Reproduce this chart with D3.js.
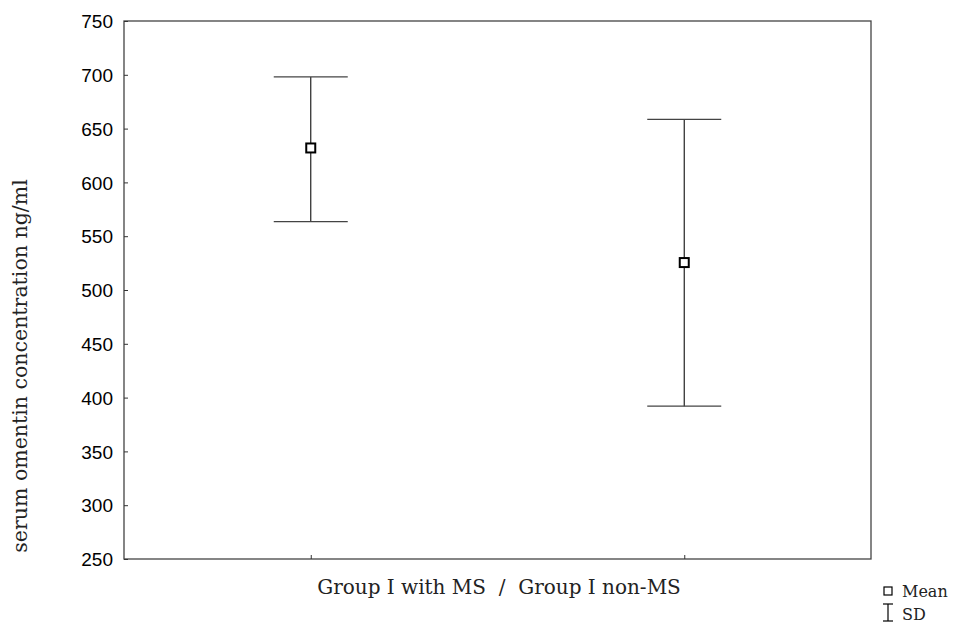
<!DOCTYPE html>
<meta charset="utf-8">
<html>
<head>
<style>
body { margin: 0; background: #fff; }
.tick text { font: 19px "Liberation Sans", Arial, sans-serif; fill: #000; }
.lbl { font: 20px "DejaVu Serif", serif; fill: #222; }
.ylbl { font: 20.5px "DejaVu Serif", serif; fill: #222; }
.leg { font: 16px "DejaVu Serif", serif; fill: #222; }
</style>
<script src="https://d3js.org/d3.v7.min.js"></script>
</head>
<body>
<svg width="954" height="626"></svg>
<script>
var groups = ["Group I with MS", "Group I non-MS"];
var means = [632, 525.5];
var upper = [698, 658.5];
var lower = [563.5, 392];
var yTicks = [250, 300, 350, 400, 450, 500, 550, 600, 650, 700, 750];

var svg = d3.select("svg");
var m = {left: 124, right: 871, top: 21, bottom: 559};

var x = d3.scalePoint().domain(groups).range([m.left, m.right]).padding(0.5);
var y = d3.scaleLinear().domain([250, 750]).range([m.bottom, m.top]);

// frame
svg.append("rect")
    .attr("x", m.left).attr("y", m.top)
    .attr("width", m.right - m.left).attr("height", m.bottom - m.top)
    .attr("fill", "none").attr("stroke", "#444").attr("stroke-width", 1.3);

// y axis, ticks pointing inward
var ya = svg.append("g")
    .attr("transform", "translate(" + m.left + ",0)")
    .call(d3.axisRight(y).tickValues(yTicks).tickSize(4).tickFormat(d3.format("d")));
ya.select(".domain").remove();
ya.selectAll(".tick line").attr("stroke", "#333");
ya.selectAll(".tick text").attr("x", -11).attr("text-anchor", "end").attr("dy", "0.35em");

// x ticks pointing up
var xa = svg.append("g")
    .attr("transform", "translate(0," + m.bottom + ")")
    .call(d3.axisTop(x).tickSize(4).tickFormat(""));
xa.select(".domain").remove();
xa.selectAll(".tick line").attr("stroke", "#333");

// error bars
var cap = 37;
groups.forEach(function(g, i) {
  var cx = x(g);
  svg.append("line").attr("x1", cx).attr("x2", cx)
      .attr("y1", y(upper[i])).attr("y2", y(lower[i]))
      .attr("stroke", "#222").attr("stroke-width", 1.2);
  [upper[i], lower[i]].forEach(function(v) {
    svg.append("line").attr("x1", cx - cap).attr("x2", cx + cap)
        .attr("y1", y(v)).attr("y2", y(v))
        .attr("stroke", "#444").attr("stroke-width", 1.3);
  });
  svg.append("rect")
      .attr("x", cx - 4.5).attr("y", y(means[i]) - 4.5)
      .attr("width", 9).attr("height", 9)
      .attr("fill", "#fff").attr("stroke", "#000").attr("stroke-width", 2);
});

// axis labels
svg.append("text").attr("class", "lbl")
    .attr("x", 499).attr("y", 594)
    .attr("text-anchor", "middle")
    .attr("xml:space", "preserve")
    .text(groups[0] + "  /  " + groups[1]);

svg.append("text").attr("class", "ylbl")
    .attr("transform", "translate(27,366) rotate(-90)")
    .attr("text-anchor", "middle")
    .text("serum omentin concentration ng/ml");

// legend
svg.append("rect").attr("x", 884).attr("y", 587).attr("width", 8).attr("height", 8)
    .attr("fill", "#fff").attr("stroke", "#000").attr("stroke-width", 1.2);
svg.append("text").attr("class", "leg").attr("x", 902).attr("y", 597).text("Mean");
var lg = svg.append("g").attr("stroke", "#000").attr("stroke-width", 1.2);
lg.append("line").attr("x1", 883).attr("x2", 893).attr("y1", 604).attr("y2", 604);
lg.append("line").attr("x1", 888).attr("x2", 888).attr("y1", 604).attr("y2", 621);
lg.append("line").attr("x1", 883).attr("x2", 893).attr("y1", 621).attr("y2", 621);
svg.append("text").attr("class", "leg").attr("x", 902).attr("y", 620).text("SD");
</script>
</body>
</html>
